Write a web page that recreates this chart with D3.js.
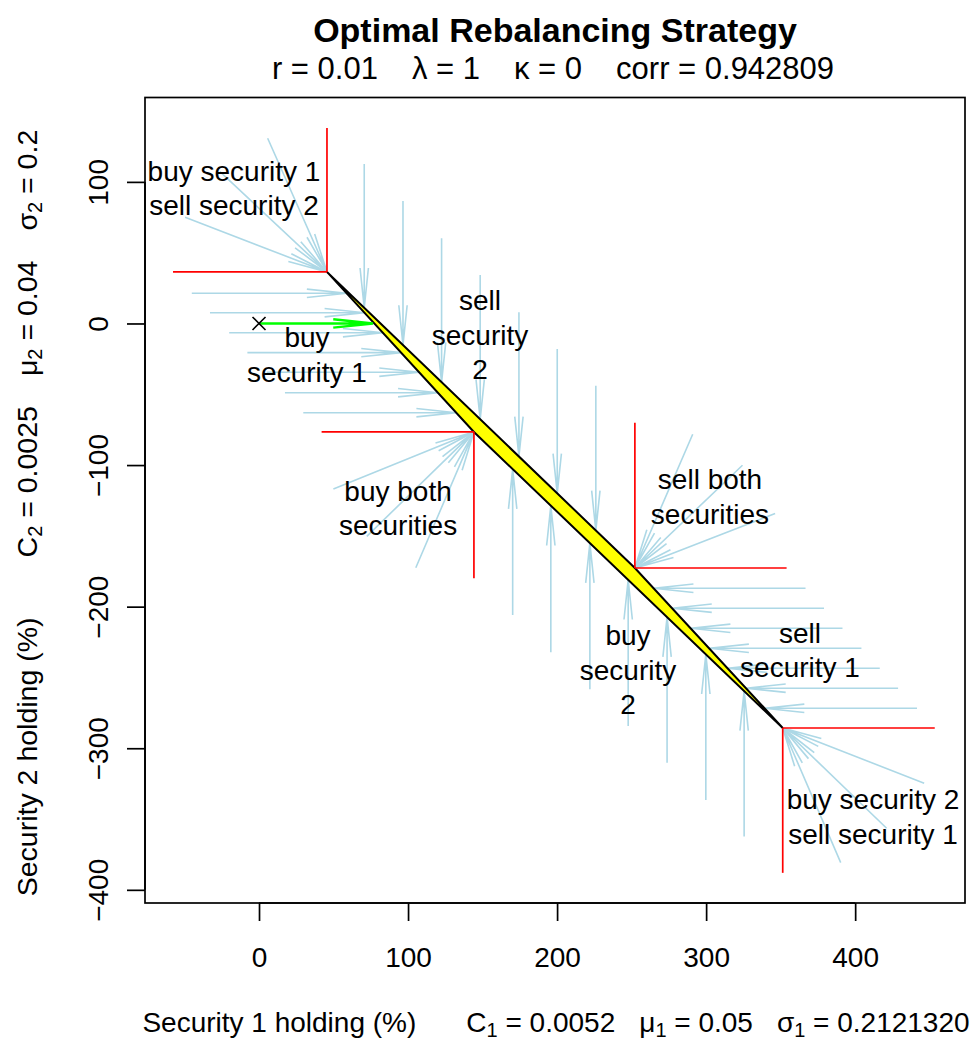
<!DOCTYPE html>
<html>
<head>
<meta charset="utf-8">
<script src="https://cdn.jsdelivr.net/npm/d3@7"></script>
<style>
  body { margin: 0; background: #fff; }
  text { font-family: "Liberation Sans", Arial, Helvetica, sans-serif; fill: #000; }
</style>
</head>
<body>
<div id="chart"></div>
<script>
// tick values
var xTicks = [0, 100, 200, 300, 400];
var yTicks = [-400, -300, -200, -100, 0, 100];

// no-trade region corners: upper-left, buy-both, lower-right, sell-both
var cornerX = [45.6, 144.2, 351.4, 252.2];
var cornerY = [36.4, -76.6, -285.7, -172.7];
// red boundary lines from each corner (horizontal end x, vertical end y)
var limitX = [-57.7, 42.0, 453.4, 354.0];
var limitY = [138.1, -180.0, -388.0, -70.1];

// buy security 1 (arrows to the right)
var buy1Y    = [21.3, 7.6, -6.5, -20.6, -34.4, -48.9, -63.0];
var buy1From = [-45.1, -32.9, -20.0, -7.8, 5.2, 17.4, 29.7];
var buy1To   = [58.8, 70.7, 83.0, 95.3, 107.4, 120.0, 132.3];

// sell security 2 (arrows down)
var sell2X    = [70.6, 96.6, 122.5, 148.4, 174.4, 200.1, 226.0];
var sell2From = [112.6, 86.5, 60.2, 34.3, 7.9, -18.0, -43.9];
var sell2To   = [11.1, -15.2, -41.4, -67.6, -93.9, -120.0, -146.2];

// buy security 2 (arrows up)
var buy2X    = [170.2, 195.8, 222.0, 247.7, 273.8, 299.8, 325.5];
var buy2From = [-205.9, -232.2, -258.3, -284.3, -310.2, -336.6, -362.4];
var buy2To   = [-102.8, -128.7, -155.1, -181.0, -207.4, -233.6, -259.5];

// sell security 1 (arrows to the left)
var sell1Y    = [-187.0, -201.1, -215.3, -229.4, -243.5, -257.6, -271.8];
var sell1From = [366.7, 379.1, 391.5, 404.2, 416.5, 428.8, 441.5];
var sell1To   = [264.8, 277.1, 289.6, 302.0, 314.4, 326.7, 339.2];

// fans into the corners (start points; they end at the corner of the same index)
var fanX = [[5.8, -26.2, -49.6], [49.9, 72.3, 105.2], [446.3, 421.1, 390.3], [291.0, 324.4, 346.3]];
var fanY = [[130.8, 107.2, 75.0], [-116.9, -150.4, -172.5], [-324.7, -356.5, -380.8], [-78.2, -100.1, -134.2]];

// current holding and its move
var startPoint = [0, 0];
var startTo = [76.5, 0];

// region labels
var regionText = [["buy security 1", "sell security 2"], ["buy", "security 1"], ["sell", "security", "2"],
                  ["buy both", "securities"], ["sell both", "securities"], ["buy", "security", "2"],
                  ["sell", "security 1"], ["buy security 2", "sell security 1"]];
var regionX = [-16.8, 32.2, 148.3, 93.3, 302.6, 247.6, 363.0, 412.0];
var regionY = [95.7, -22.2, -8.1, -130.3, -122.5, -244.7, -230.6, -348.5];

// title parameters
var subParts = ["r = 0.01", "\u03bb = 1", "\u03ba = 0", "corr = 0.942809"];
var xParams = [["C", "1", "0.0052"], ["\u03bc", "1", "0.05"], ["\u03c3", "1", "0.2121320"]];
var yParams = [["C", "2", "0.0025"], ["\u03bc", "2", "0.04"], ["\u03c3", "2", "0.2"]];

function init() {
    var w = 973, h = 1040;
    var left = 145, right = 965, top = 97.5, bottom = 903;

    var svg = d3.select("#chart").append("svg")
        .attr("width", w)
        .attr("height", h);

    var x = d3.scaleLinear().domain([-76.5, 473.7]).range([left, right]);
    var y = d3.scaleLinear().domain([-409.3, 159.6]).range([bottom, top]);

    function arrow(g, x0, y0, x1, y1, colour, lw) {
        var px0 = x(x0), py0 = y(y0), px1 = x(x1), py1 = y(y1);
        var a = Math.atan2(py1 - py0, px1 - px0);
        var hl = 40, ha = 6 * Math.PI / 180;
        var p = "M" + px0 + "," + py0 + "L" + px1 + "," + py1 +
            "M" + (px1 - hl * Math.cos(a - ha)) + "," + (py1 - hl * Math.sin(a - ha)) +
            "L" + px1 + "," + py1 +
            "L" + (px1 - hl * Math.cos(a + ha)) + "," + (py1 - hl * Math.sin(a + ha));
        g.append("path").attr("d", p)
            .attr("fill", "none")
            .attr("stroke", colour)
            .attr("stroke-width", lw);
    }

    var arrows = svg.append("g");
    var blue = "#add8e6";
    buy1Y.forEach(function(v, i) { arrow(arrows, buy1From[i], v, buy1To[i], v, blue, 1.6); });
    sell2X.forEach(function(v, i) { arrow(arrows, v, sell2From[i], v, sell2To[i], blue, 1.6); });
    buy2X.forEach(function(v, i) { arrow(arrows, v, buy2From[i], v, buy2To[i], blue, 1.6); });
    sell1Y.forEach(function(v, i) { arrow(arrows, sell1From[i], v, sell1To[i], v, blue, 1.6); });
    fanX.forEach(function(xs, c) {
        xs.forEach(function(v, i) { arrow(arrows, v, fanY[c][i], cornerX[c], cornerY[c], blue, 1.6); });
    });

    // no-trade region
    var poly = cornerX.map(function(v, i) { return [x(v), y(cornerY[i])]; });
    svg.append("path")
        .attr("d", d3.line()(poly) + "Z")
        .attr("fill", "#ffff00")
        .attr("stroke", "#000")
        .attr("stroke-width", 2)
        .attr("stroke-linejoin", "miter");

    // red limits
    var reds = svg.append("g").attr("stroke", "#ff0000").attr("stroke-width", 1.7);
    cornerX.forEach(function(cx, i) {
        reds.append("line").attr("x1", x(cx)).attr("y1", y(cornerY[i]))
            .attr("x2", x(limitX[i])).attr("y2", y(cornerY[i]));
        reds.append("line").attr("x1", x(cx)).attr("y1", y(cornerY[i]))
            .attr("x2", x(cx)).attr("y2", y(limitY[i]));
    });

    // current point and its move
    arrow(svg, startPoint[0], startPoint[1], startTo[0], startTo[1], "#00ff00", 2.4);
    var sx = x(startPoint[0]), sy = y(startPoint[1]);
    svg.append("path")
        .attr("d", "M" + (sx - 6.5) + "," + (sy - 6.5) + "L" + (sx + 6.5) + "," + (sy + 6.5) +
                   "M" + (sx - 6.5) + "," + (sy + 6.5) + "L" + (sx + 6.5) + "," + (sy - 6.5))
        .attr("stroke", "#000").attr("stroke-width", 1.6);

    // region labels
    var lh = 34.5;
    regionText.forEach(function(lines, i) {
        var t = svg.append("text")
            .attr("text-anchor", "middle")
            .attr("font-size", 28);
        lines.forEach(function(s, k) {
            t.append("tspan")
                .attr("x", x(regionX[i]))
                .attr("y", y(regionY[i]) + (k - (lines.length - 1) / 2) * lh)
                .attr("dy", "0.35em")
                .text(s);
        });
    });

    // frame
    svg.append("rect")
        .attr("x", left).attr("y", top)
        .attr("width", right - left).attr("height", bottom - top)
        .attr("fill", "none").attr("stroke", "#000").attr("stroke-width", 1.7);

    // axes
    var xAxis = svg.append("g")
        .attr("transform", "translate(0," + bottom + ")")
        .call(d3.axisBottom(x).tickValues(xTicks).tickSize(18).tickPadding(26).tickSizeOuter(0));
    xAxis.select(".domain").attr("d", "M" + x(xTicks[0]) + ",0H" + x(xTicks[xTicks.length - 1]))
        .attr("stroke-width", 1.7);
    xAxis.selectAll(".tick line").attr("stroke-width", 1.7);
    xAxis.selectAll("text").attr("font-size", 28).attr("font-family", null);

    var yAxis = svg.append("g")
        .attr("transform", "translate(" + left + ",0)")
        .call(d3.axisLeft(y).tickValues(yTicks).tickSize(18).tickSizeOuter(0));
    yAxis.select(".domain").attr("d", "M0," + y(yTicks[0]) + "V" + y(yTicks[yTicks.length - 1]))
        .attr("stroke-width", 1.7);
    yAxis.selectAll(".tick line").attr("stroke-width", 1.7);
    yAxis.selectAll(".tick text")
        .attr("font-size", 28).attr("font-family", null)
        .attr("x", null).attr("dy", "0.35em")
        .attr("text-anchor", "middle")
        .attr("transform", "translate(-47,0) rotate(-90)");

    // titles
    svg.append("text")
        .attr("x", 555).attr("y", 42)
        .attr("text-anchor", "middle")
        .attr("font-size", 34).attr("font-weight", "bold")
        .text("Optimal Rebalancing Strategy");

    var sub = svg.append("text")
        .attr("x", 553).attr("y", 79)
        .attr("text-anchor", "middle")
        .attr("font-size", 31);
    subParts.forEach(function(s, i) {
        sub.append("tspan").attr("dx", i ? 34 : 0).text(s);
    });

    function labelWithSubs(t, head, items, gap, first) {
        t.append("tspan").text(head);
        items.forEach(function(it, i) {
            t.append("tspan").attr("dx", i ? gap : first).text(it[0]);
            t.append("tspan").attr("font-size", 20).attr("dy", 5).text(it[1]);
            t.append("tspan").attr("dy", -5).text(" = " + it[2]);
        });
    }

    var xt = svg.append("text")
        .attr("x", 556).attr("y", 1032)
        .attr("text-anchor", "middle")
        .attr("font-size", 28)
        .style("white-space", "pre");
    labelWithSubs(xt, "Security 1 holding (%)", xParams, 24, 50);

    var yt = svg.append("text")
        .attr("transform", "translate(37,513) rotate(-90)")
        .attr("text-anchor", "middle")
        .attr("font-size", 28.5)
        .style("white-space", "pre");
    labelWithSubs(yt, "Security 2 holding (%)", yParams, 30, 60);
}

window.onload = init;
</script>
</body>
</html>
